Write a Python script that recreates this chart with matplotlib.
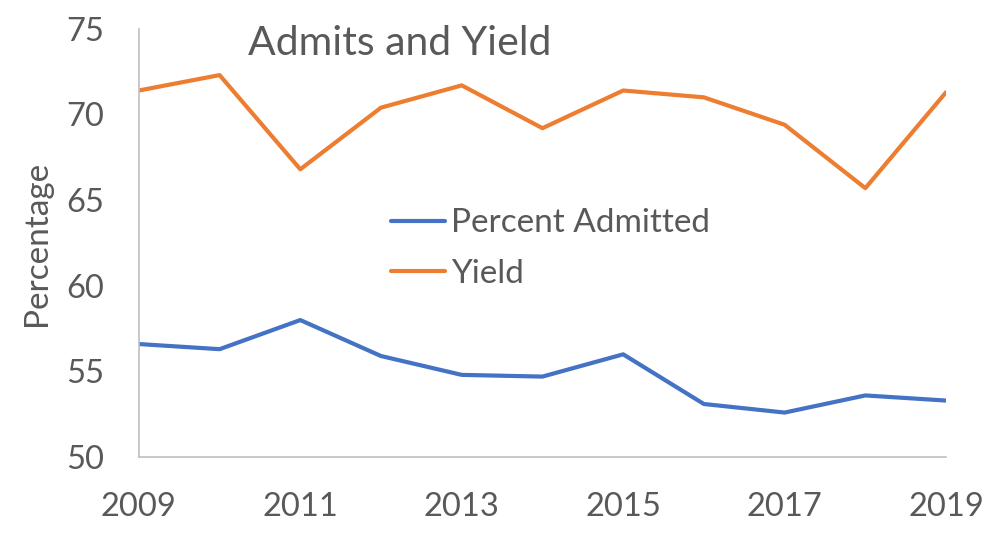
import matplotlib
matplotlib.use("Agg")
import matplotlib.pyplot as plt

years = [2009, 2010, 2011, 2012, 2013, 2014, 2015, 2016, 2017, 2018, 2019]
admitted = [56.6, 56.3, 58.0, 55.9, 54.8, 54.7, 56.0, 53.1, 52.6, 53.6, 53.3]
yield_pct = [71.4, 72.3, 66.8, 70.4, 71.7, 69.2, 71.4, 71.0, 69.4, 65.7, 71.3]
xticks = [2009, 2011, 2013, 2015, 2017, 2019]
yticks = [50, 55, 60, 65, 70, 75]

plt.rcParams['font.family'] = ['Lato', 'DejaVu Sans']
gray = '#595959'

fig = plt.figure(figsize=(9.99, 5.34), dpi=100)
ax = fig.add_axes([0.139, 0.144, 0.808, 0.802])

ax.plot(years, admitted, color='#4472C4', lw=3, label='Percent Admitted', solid_capstyle='round')
ax.plot(years, yield_pct, color='#ED7D31', lw=3, label='Yield', solid_capstyle='round')

ax.set_xlim(2009, 2019)
ax.set_ylim(50, 75)
ax.set_xticks(xticks)
ax.set_yticks(yticks)
ax.tick_params(length=0, labelsize=23.5, labelcolor=gray)
ax.tick_params(axis='x', pad=25)
ax.tick_params(axis='y', pad=25)

for s in ['top', 'right']:
    ax.spines[s].set_visible(False)
for s in ['left', 'bottom']:
    ax.spines[s].set_color('#BFBFBF')
    ax.spines[s].set_linewidth(1.2)

ax.set_ylabel('Percentage', fontsize=24, color=gray, labelpad=10)
ax.text(0.135, 1.01, 'Admits and Yield', transform=ax.transAxes, fontsize=29.5,
        color=gray, va='top', ha='left')

leg = ax.legend(loc='upper left', bbox_to_anchor=(0.292, 0.62), frameon=False,
                fontsize=24, handlelength=1.6, handletextpad=0.2, labelspacing=0.62,
                borderpad=0)
for t in leg.get_texts():
    t.set_color(gray)

fig.savefig('out.png', dpi=100)
